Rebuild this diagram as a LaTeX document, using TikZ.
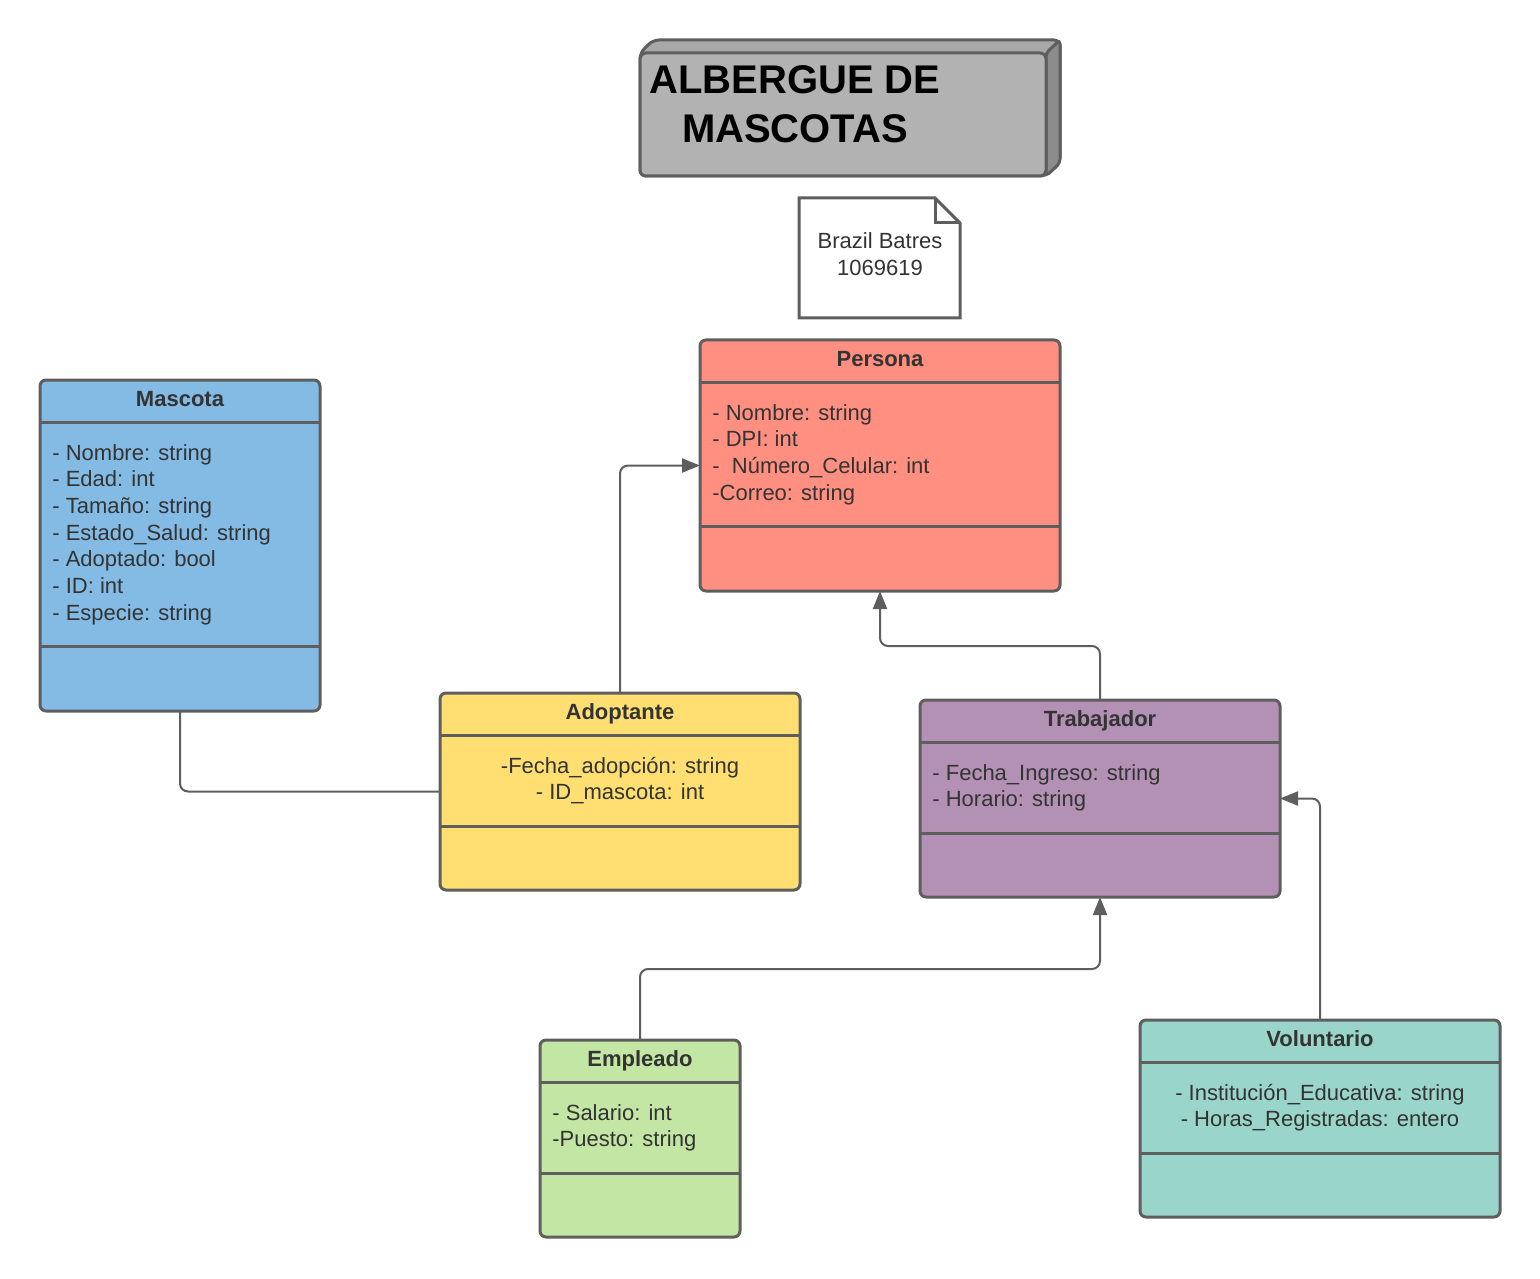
\documentclass[tikz,border=0pt]{standalone}
\usepackage{fontspec}
\setmainfont{Liberation Sans}
\usepackage{xcolor}
\usepackage{tikz}
\usetikzlibrary{arrows.meta,positioning}

\definecolor{linegray}{HTML}{5E5E5E}
\definecolor{txtgray}{HTML}{333333}
\definecolor{personafill}{HTML}{FF8F80}
\definecolor{mascotafill}{HTML}{83BBE5}
\definecolor{adoptfill}{HTML}{FFDF71}
\definecolor{trabfill}{HTML}{B391B5}
\definecolor{emplfill}{HTML}{C3E6A4}
\definecolor{volfill}{HTML}{99D5CA}
\definecolor{blockfront}{HTML}{B2B2B2}
\definecolor{blocktop}{HTML}{A8A8A8}
\definecolor{blockside}{HTML}{8C8C8C}

\tikzset{
  umlbox/.style={draw=linegray,line width=1.5pt,rounded corners=3pt,inner sep=0pt,outer sep=0pt,anchor=north west},
  rule/.style={draw=linegray,line width=1.5pt},
  umltitle/.style={font=\bfseries\fontsize{11}{13.35}\selectfont,text=txtgray,anchor=base,inner sep=0pt},
  attr/.style={font=\fontsize{11}{13.35}\selectfont,text=txtgray,anchor=base west,inner sep=0pt},
  attrc/.style={attr,anchor=base},
  link/.style={draw=linegray,line width=1pt,rounded corners=4pt},
  isa/.style={link,-{Triangle[length=9pt,width=7pt]}},
}

\begin{document}
\begin{tikzpicture}[x=0.5pt,y=-0.5pt]
\useasboundingbox (0,0) rectangle (1540,1278);

% titulo en bloque 3D
\draw[line width=1.5pt,draw=linegray,fill=blocktop,rounded corners=3pt](640,176)--(640,53)--(653,40)--(1060,40)--(1060,163)--(1046,176)--cycle;
\draw[line width=1.5pt,draw=linegray,fill=blockside,rounded corners=2pt](1046,53)--(1060,40)--(1060,163)--(1046,176)--cycle;
\draw[line width=1.5pt,draw=linegray,fill=blockfront,rounded corners=3pt](640,53)rectangle(1046,176);
\node[font=\bfseries\fontsize{20}{24.5}\selectfont,anchor=base,inner sep=0pt] (heading1) at (795,94) {ALBERGUE DE};
\node[font=\bfseries\fontsize{20}{24.5}\selectfont,anchor=base,inner sep=0pt] (heading2) at (795,143) {MASCOTAS};

% nota
\draw[line width=1.5pt,draw=linegray,fill=white](799,198)--(935,198)--(960,223)--(960,318)--(799,318)--cycle;
\draw[line width=1.5pt,draw=linegray](935,198)--(935,223)--(960,223);
\node[attrc] (note1) at (880,249) {Brazil Batres};
\node[attrc] (note2) at (880,276) {1069619};

% Persona
\node[umlbox,fill=personafill,minimum width=180pt,minimum height=125.5pt] (persona) at (700,340) {};
\draw[rule]([yshift=-21pt]persona.north west)--([yshift=-21pt]persona.north east);
\draw[rule]([yshift=-93pt]persona.north west)--([yshift=-93pt]persona.north east);
\node[umltitle] (persona-t) at (880,366) {Persona};
\foreach \t [count=\i from 0] in {- Nombre: string,- DPI: int,- \ Número\_Celular: int,-Correo: string}
  \node[attr] (persona-a\i) at (712,{420+26.7*\i}) {\t};

% Mascota
\node[umlbox,fill=mascotafill,minimum width=140pt,minimum height=165.5pt] (mascota) at (40,380) {};
\draw[rule]([yshift=-21pt]mascota.north west)--([yshift=-21pt]mascota.north east);
\draw[rule]([yshift=-133pt]mascota.north west)--([yshift=-133pt]mascota.north east);
\node[umltitle] (mascota-t) at (180,406) {Mascota};
\foreach \t [count=\i from 0] in {- Nombre: string,- Edad: int,- Tamaño: string,- Estado\_Salud: string,- Adoptado: bool,- ID: int,- Especie: string}
  \node[attr] (mascota-a\i) at (52,{460+26.7*\i}) {\t};

% Adoptante
\node[umlbox,fill=adoptfill,minimum width=180pt,minimum height=98.5pt] (adoptante) at (440,693) {};
\draw[rule]([yshift=-21pt]adoptante.north west)--([yshift=-21pt]adoptante.north east);
\draw[rule]([yshift=-66.5pt]adoptante.north west)--([yshift=-66.5pt]adoptante.north east);
\node[umltitle] (adoptante-t) at (620,719) {Adoptante};
\foreach \t [count=\i from 0] in {-Fecha\_adopción: string,- ID\_mascota: int}
  \node[attrc] (adoptante-a\i) at (620,{773+26.7*\i}) {\t};

% Trabajador
\node[umlbox,fill=trabfill,minimum width=180pt,minimum height=98.5pt] (trabajador) at (920,700) {};
\draw[rule]([yshift=-21pt]trabajador.north west)--([yshift=-21pt]trabajador.north east);
\draw[rule]([yshift=-66.5pt]trabajador.north west)--([yshift=-66.5pt]trabajador.north east);
\node[umltitle] (trabajador-t) at (1100,726) {Trabajador};
\foreach \t [count=\i from 0] in {- Fecha\_Ingreso: string,- Horario: string}
  \node[attr] (trabajador-a\i) at (932,{780+26.7*\i}) {\t};

% Empleado
\node[umlbox,fill=emplfill,minimum width=100pt,minimum height=98.5pt] (empleado) at (540,1040) {};
\draw[rule]([yshift=-21pt]empleado.north west)--([yshift=-21pt]empleado.north east);
\draw[rule]([yshift=-66.5pt]empleado.north west)--([yshift=-66.5pt]empleado.north east);
\node[umltitle] (empleado-t) at (640,1066) {Empleado};
\foreach \t [count=\i from 0] in {- Salario: int,-Puesto: string}
  \node[attr] (empleado-a\i) at (552,{1120+26.7*\i}) {\t};

% Voluntario
\node[umlbox,fill=volfill,minimum width=180pt,minimum height=98.5pt] (voluntario) at (1140,1020) {};
\draw[rule]([yshift=-21pt]voluntario.north west)--([yshift=-21pt]voluntario.north east);
\draw[rule]([yshift=-66.5pt]voluntario.north west)--([yshift=-66.5pt]voluntario.north east);
\node[umltitle] (voluntario-t) at (1320,1046) {Voluntario};
\foreach \t [count=\i from 0] in {- Institución\_Educativa: string,- Horas\_Registradas: entero}
  \node[attrc] (voluntario-a\i) at (1320,{1100+26.7*\i}) {\t};

% relaciones
\draw[isa](adoptante.north)|-(persona.west);
\draw[isa](trabajador.north)--++(0,-54)-|(persona.south);
\draw[isa](empleado.north)--++(0,-71)-|(trabajador.south);
\draw[isa](voluntario.north)|-(trabajador.east);
\draw[link](mascota.south)|-(adoptante.west);
\end{tikzpicture}
\end{document}
